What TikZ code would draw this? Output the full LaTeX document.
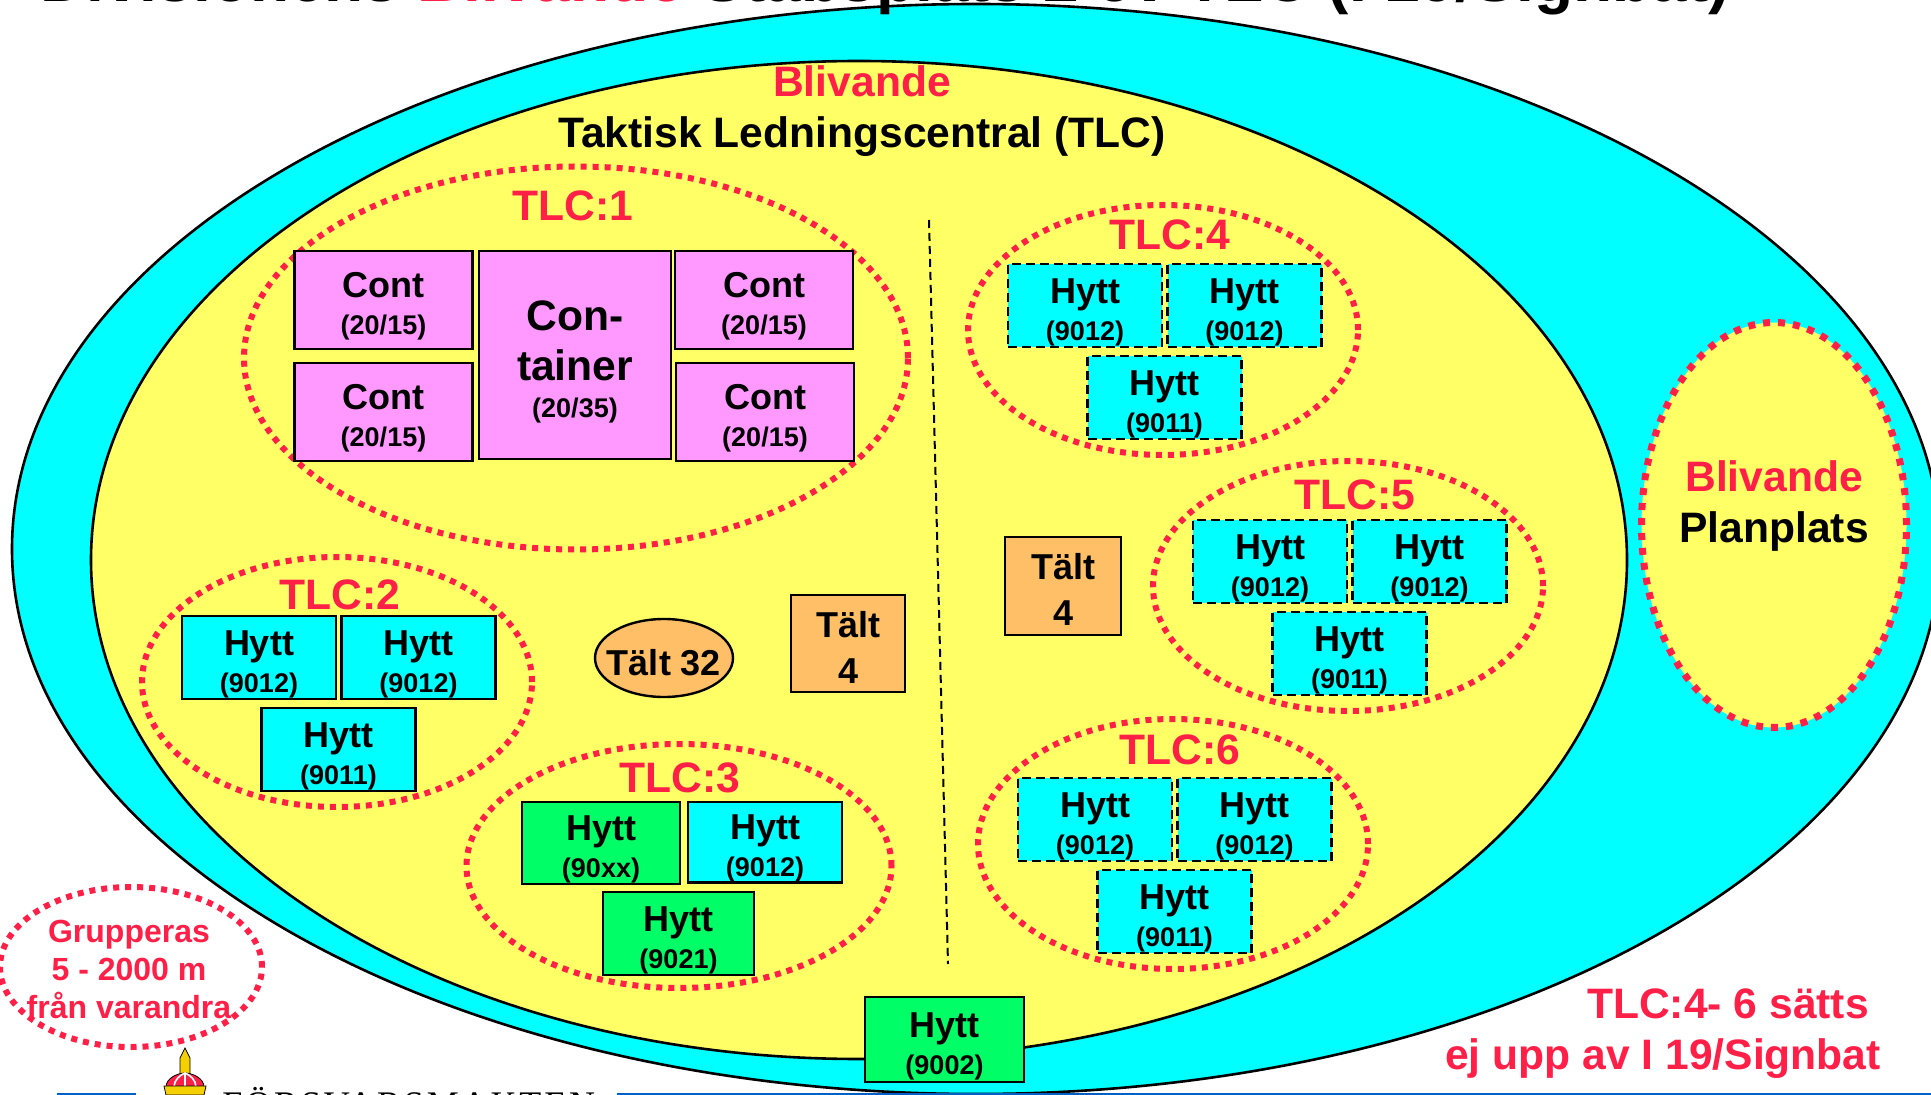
\documentclass[tikz,border=0pt]{standalone}
\usepackage{fontspec}
\setmainfont{Liberation Sans}
\newfontfamily\logofont[LetterSpace=8]{Liberation Serif}
\usetikzlibrary{shapes.geometric,calc}
\definecolor{rd}{HTML}{FF1F47}
\definecolor{yl}{HTML}{FFFF66}
\definecolor{cy}{HTML}{00FFFF}
\definecolor{pk}{HTML}{FF99FF}
\definecolor{gr}{HTML}{00FF66}
\definecolor{og}{HTML}{FFBF66}
\definecolor{bl}{HTML}{0060C8}
\definecolor{gd}{HTML}{F5D000}
\newcommand{\sz}[2]{\fontsize{#1}{#2}\selectfont}
\newcommand{\twol}[2]{\rule{0pt}{19pt}#1\\\sz{13.5}{18.5}#2}
\tikzset{
  x=.5pt,y=-.5pt,
  reddots/.style={draw=rd,line width=3pt,dash pattern=on 3pt off 3pt},
  grp/.style={ellipse,reddots,inner sep=0pt},
  box/.style={rectangle,draw=black,inner sep=0pt,align=center,line width=1.4pt,font=\sz{18}{18.5}\bfseries},
  hyttsolid/.style={box,fill=cy,minimum width=77pt,minimum height=41.5pt},
  hyttdash/.style={hyttsolid,line width=1.3pt,dash pattern=on 4.5pt off 2.5pt},
  contbox/.style={box,fill=pk,minimum width=89pt,minimum height=49pt},
  greenbox/.style={box,fill=gr},
  tent/.style={box,fill=og,line width=1.2pt,font=\sz{18}{23}\bfseries},
  redlab/.style={text=rd,font=\sz{21.3}{25}\bfseries,inner sep=0pt},
  blacklab/.style={text=black,font=\sz{21.3}{25}\bfseries,inner sep=0pt},
}
\newcommand{\hgroup}[4]{% name, cx, cy, box style
  \node[grp,minimum width=195pt,minimum height=125pt] (#1) at (#2,#3) {};
  \node[#4] (#1a) at ($(#2,#3)+(-78,-24.5)$) {\twol{Hytt}{(9012)}};
  \node[#4] (#1b) at ($(#2,#3)+(81.5,-24.5)$) {\twol{Hytt}{(9012)}};
  \node[#4] (#1c) at ($(#2,#3)+(1.5,67.5)$) {\twol{Hytt}{(9011)}};
}
\begin{document}
\begin{tikzpicture}
\useasboundingbox (0,0) rectangle (1931,1095);
\clip (0,0) rectangle (1931,1095);
\node[ellipse,draw=black,fill=cy,line width=1.3pt,minimum width=964pt,minimum height=545pt,inner sep=0pt] (outer) at (976,549) {};
\node[ellipse,draw=black,fill=yl,line width=1.3pt,minimum width=768pt,minimum height=499pt,inner sep=0pt] (inner) at (859,560) {};
% title
\node[anchor=base,inner sep=0pt,font=\sz{32}{36}\bfseries] (title) at (885,2) {Divisionens \textcolor{rd}{Blivande} Stabsplats 2 ev TLC (I 19/Signbat)};
\node[redlab] (bliv) at (862,81) {Blivande};
\node[blacklab] (tak) at (862,137) {Taktisk Ledningscentral (TLC)};
% TLC:1
\node[grp,minimum width=332pt,minimum height=191.5pt] (t1) at (576,358) {};
\node[redlab] (t1l) at (573,206) {TLC:1};
\node[contbox] (c1) at (383.5,300) {\twol{Cont}{(20/15)}};
\node[contbox] (c2) at (383.5,412) {\twol{Cont}{(20/15)}};
\node[contbox] (c3) at (764,300) {\twol{Cont}{(20/15)}};
\node[contbox] (c4) at (765,412) {\twol{Cont}{(20/15)}};
\node[box,fill=pk,minimum width=96pt,minimum height=104pt,font=\sz{21.3}{25}\bfseries] (c5) at (575,355) {\rule{0pt}{21.5pt}Con-\\tainer\\[-6.5pt]\sz{13.5}{18.5}(20/35)};
% TLC:2
\hgroup{t2}{337}{682}{hyttsolid}
\node[redlab] (t2l) at (340,595) {TLC:2};
% TLC:3
\node[grp,minimum width=212.5pt,minimum height=122pt] (t3) at (679,866) {};
\node[redlab] (t3l) at (680,778) {TLC:3};
\node[greenbox,minimum width=79pt,minimum height=41pt] (h3a) at (601,843) {\twol{Hytt}{(90xx)}};
\node[box,fill=cy,line width=1.2pt,minimum width=77pt,minimum height=39pt] (h3b) at (765,842) {\twol{Hytt}{(9012)}};
\node[greenbox,minimum width=75.5pt,minimum height=41.5pt] (h3c) at (678.5,933.5) {\twol{Hytt}{(9021)}};
% TLC:4-6
\hgroup{t4}{1163}{330}{hyttdash}
\node[redlab] (t4l) at (1170,235) {TLC:4};
\hgroup{t5}{1348}{586}{hyttdash}
\node[redlab] (t5l) at (1355,495) {TLC:5};
\hgroup{t6}{1173}{844}{hyttdash}
\node[redlab] (t6l) at (1180,750) {TLC:6};
% tents
\node[tent,ellipse,minimum width=69pt,minimum height=39pt,inner sep=0pt] (t32) at (664,658) {\smash{\raisebox{-9pt}{\makebox[0pt][c]{Tält 32}}}};
\node[tent,minimum width=57pt,minimum height=48.5pt] (t4a) at (848,643.5) {\rule{0pt}{16.5pt}Tält\\4};
\node[tent,minimum width=58pt,minimum height=49pt] (t4b) at (1063,586) {\rule{0pt}{16.5pt}Tält\\4};
% divider
\coordinate (da) at (929,220);
\coordinate (db) at (948,964);
\draw[black,line width=1pt,dash pattern=on 4pt off 2.5pt] (da) -- (db);
% Planplats
\node[ellipse,draw=rd,fill=yl,line width=3.5pt,dash pattern=on 3.5pt off 4pt,minimum width=132.5pt,minimum height=202.5pt,inner sep=0pt] (plan) at (1774,525) {};
\node[redlab] (pl1) at (1774,476) {Blivande};
\node[blacklab] (pl2) at (1774,531) {Planplats};
% Hytt 9002
\node[greenbox,minimum width=79.5pt,minimum height=42.5pt] (h2) at (944.5,1039.5) {\twol{Hytt}{(9002)}};
% Grupperas
\node[grp,minimum width=131pt,minimum height=80pt] (gp) at (131,967) {};
\node[text=rd,inner sep=0pt,align=center,font=\sz{16}{19}\bfseries] (gpt) at (129,969) {Grupperas\\5 - 2000 m\\från varandra};
% note
\node[redlab] (n1) at (1728,1004) {TLC:4- 6 sätts};
\node[redlab] (n2) at (1663,1059) {ej upp av I 19/Signbat};
% footer
\fill[bl] (57,1093) rectangle (136,1095);
\fill[bl] (617,1093) rectangle (1931,1095);
\node[anchor=base west,inner sep=0pt,font=\logofont\sz{18}{20}] (logo) at (222,1116) {FÖRSVARSMAKTEN};
% crown and sword
\path[draw=black,fill=gd,line width=.4pt] (180,1058) -- (185,1048) -- (190,1058) -- (190,1074) -- (180,1074) -- cycle;
\path[draw=black,fill=rd,line width=.4pt] (166,1087) .. controls (166,1078) and (178,1073) .. (185,1073) .. controls (192,1073) and (204,1078) .. (204,1087) -- cycle;
\draw[white,line width=.8pt] (174,1087) .. controls (174,1080) and (180,1075) .. (185,1073) .. controls (190,1075) and (196,1080) .. (196,1087);
\draw[white,line width=.8pt] (185,1073) -- (185,1087);
\path[draw=black,fill=gd,line width=.4pt] (164,1086) -- (206,1086) -- (204,1095) -- (166,1095) -- cycle;
\end{tikzpicture}
\end{document}
